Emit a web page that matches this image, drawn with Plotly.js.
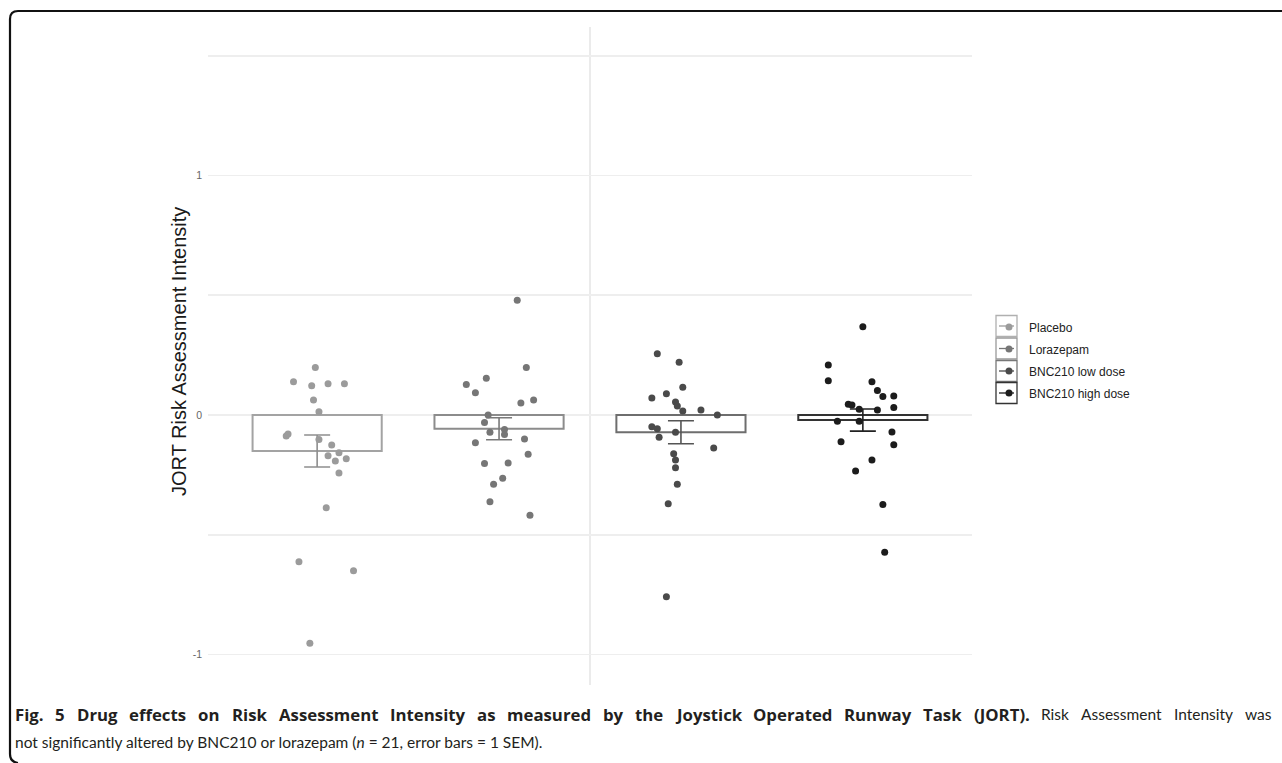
<!DOCTYPE html>
<html>
<head>
<meta charset="utf-8">
<script src="https://cdn.plot.ly/plotly-3.0.1.min.js"></script>
<style>html,body{margin:0;padding:0;background:#fff;}#chart{width:1282px;height:763px;}</style>
</head>
<body>
<div id="chart"></div>
<script>
// ---------- data ----------
const groups = ["Placebo", "Lorazepam", "BNC210 low dose", "BNC210 high dose"];
const groupMeans = [-0.150, -0.057, -0.072, -0.021];
const groupSEM = [0.067, 0.046, 0.048, 0.046];

const placeboValues = [0.199, 0.139, 0.122, 0.131, 0.131, 0.063, 0.014, -0.088, -0.079, -0.102, -0.125, -0.157, -0.170, -0.192, -0.182, -0.242, -0.387, -0.612, -0.650, -0.953];
const placeboJitter = [-0.01, -0.13, -0.03, 0.06, 0.15, -0.02, 0.01, -0.17, -0.16, 0.01, 0.08, 0.12, 0.06, 0.10, 0.16, 0.12, 0.05, -0.10, 0.20, -0.04];

const lorazepamValues = [0.479, 0.199, 0.154, 0.128, 0.093, 0.050, 0.063, 0.000, -0.031, -0.060, -0.072, -0.081, -0.100, -0.116, -0.164, -0.202, -0.200, -0.264, -0.289, -0.362, -0.418];
const lorazepamJitter = [0.10, 0.15, -0.07, -0.18, -0.13, 0.12, 0.19, -0.06, -0.08, 0.03, -0.05, 0.03, 0.14, -0.13, 0.16, -0.08, 0.05, 0.02, -0.03, -0.05, 0.17];

const lowDoseValues = [0.256, 0.220, 0.116, 0.071, 0.089, 0.054, 0.038, 0.017, 0.021, 0.000, -0.049, -0.057, -0.093, -0.072, -0.138, -0.162, -0.188, -0.220, -0.289, -0.370, -0.759];
const lowDoseJitter = [-0.13, -0.01, 0.01, -0.16, -0.08, -0.03, -0.02, 0.01, 0.11, 0.20, -0.16, -0.13, -0.12, -0.03, 0.18, -0.04, -0.03, -0.03, -0.02, -0.07, -0.08];

const highDoseValues = [0.369, 0.209, 0.143, 0.139, 0.102, 0.077, 0.079, 0.045, 0.042, 0.024, 0.021, 0.031, -0.026, -0.026, -0.071, -0.111, -0.124, -0.188, -0.234, -0.373, -0.573];
const highDoseJitter = [0.00, -0.19, -0.19, 0.05, 0.08, 0.11, 0.17, -0.08, -0.06, -0.02, 0.08, 0.17, -0.14, -0.02, 0.16, -0.12, 0.17, 0.05, -0.04, 0.11, 0.12];

const yTickVals = [-1, -0.5, 0, 0.5, 1, 1.5];
const yTickText = ["-1", "", "0", "", "1", ""];

const yTitle = "JORT Risk Assessment Intensity";
const captionBold = "Fig. 5 Drug effects on Risk Assessment Intensity as measured by the Joystick Operated Runway Task (JORT).";
const captionLine1Rest = "Risk Assessment Intensity was";
const captionLine2 = "not significantly altered by BNC210 or lorazepam (<i>n</i> = 21, error bars = 1 SEM).";

// ---------- styles ----------
const pointColors = ["#9b9b9b", "#767676", "#4a4a4a", "#1c1c1c"];
const boxColors = ["#a3a3a3", "#8c8c8c", "#6e6e6e", "#333333"];
const errColors = ["#8e8e8e", "#7a7a7a", "#555555", "#222222"];
const keyBoxColors = ["#b0b0b0", "#9a9a9a", "#777777", "#333333"];

const pointSets = [
  [placeboValues, placeboJitter],
  [lorazepamValues, lorazepamJitter],
  [lowDoseValues, lowDoseJitter],
  [highDoseValues, highDoseJitter]
];

// plot area in pixels
const L = 208, R = 972, T = 27, B = 685, W = 1282, H = 763;
const px = p => (p - L) / (R - L);
const py = p => (B - p) / (B - T);

const traces = [];
groups.forEach((g, i) => {
  traces.push({
    type: "bar",
    x: [i + 1],
    y: [groupMeans[i]],
    width: 0.71,
    marker: { color: "rgba(255,255,255,0)", line: { color: boxColors[i], width: 2 } },
    error_y: { type: "data", array: [groupSEM[i]], visible: true, color: errColors[i], thickness: 1.6, width: 13 },
    showlegend: false,
    hoverinfo: "skip"
  });
});
groups.forEach((g, i) => {
  const [vals, jit] = pointSets[i];
  traces.push({
    type: "scatter",
    mode: "markers",
    name: g,
    legendgroup: "g" + i,
    x: vals.map((v, k) => i + 1 + jit[k]),
    y: vals,
    marker: { color: pointColors[i], size: 7 }
  });
});

// legend key boxes & lines
const shapes = [];
const keyCenters = [326, 348.5, 371, 393];
keyCenters.forEach((c, i) => {
  shapes.push({ type: "rect", xref: "paper", yref: "paper", x0: px(996), x1: px(1017), y0: py(c + 10.5), y1: py(c - 10.5),
    line: { color: keyBoxColors[i], width: 1.3 }, fillcolor: "rgba(0,0,0,0)" });
  shapes.push({ type: "line", xref: "paper", yref: "paper", x0: px(999), x1: px(1014), y0: py(c), y1: py(c),
    line: { color: pointColors[i], width: 1.3 } });
});
// figure frame
const framePath = `M ${px(1290)},${py(11)} L ${px(18)},${py(11)} Q ${px(10)},${py(11)} ${px(10)},${py(19)} L ${px(10)},${py(754)} Q ${px(10)},${py(762)} ${px(18)},${py(763)}`;
shapes.push({ type: "path", xref: "paper", yref: "paper", path: framePath, line: { color: "#111", width: 2.2 } });

// caption (line 1 justified word by word, like the printed figure)
const regFamily = "Lato, 'Open Sans', sans-serif";
const boldFamily = "'Open Sans', Lato, sans-serif";
const boldSize = 16.8, regSize = 15.5;
const canvas = document.createElement("canvas");
const ctx = canvas.getContext("2d");
function measure(word, bold) {
  ctx.font = bold ? ("bold " + boldSize + "px " + boldFamily) : (regSize + "px " + regFamily);
  return ctx.measureText(word).width;
}
const line1Words = captionBold.split(" ").map(w => ({ w, bold: true }))
  .concat(captionLine1Rest.split(" ").map(w => ({ w, bold: false })));
const widths = line1Words.map(o => measure(o.w, o.bold));
const totalW = widths.reduce((a, b) => a + b, 0);
const startX = 14, endX = 1270;
const gap = Math.max(4, (endX - startX - totalW) / (line1Words.length - 1));

const annotations = [
  { xref: "paper", yref: "paper", x: px(179), y: py(352), text: yTitle, textangle: -90,
    showarrow: false, xanchor: "center", yanchor: "middle", font: { family: "'Liberation Sans', Arial, sans-serif", size: 20, color: "#1a1a1a" } },
  { xref: "paper", yref: "paper", x: px(13), y: py(742), xanchor: "left", yanchor: "middle", showarrow: false,
    text: captionLine2, font: { family: regFamily, size: regSize, color: "#231f20" } }
];
let cx = startX;
line1Words.forEach((o, k) => {
  annotations.push({ xref: "paper", yref: "paper", x: px(cx - 1), y: py(714), xanchor: "left", yanchor: "middle", showarrow: false,
    text: o.bold ? "<b>" + o.w + "</b>" : o.w,
    font: { family: o.bold ? boldFamily : regFamily, size: o.bold ? boldSize : regSize, color: "#231f20" } });
  cx += widths[k] + gap;
});

const layout = {
  width: W, height: H,
  margin: { l: L, r: W - R, t: T, b: H - B, pad: 0 },
  paper_bgcolor: "#ffffff", plot_bgcolor: "#ffffff",
  barmode: "overlay",
  xaxis: { range: [0.4, 4.6], tickvals: [2.5], ticktext: [""], showgrid: true, gridcolor: "#ebebeb", gridwidth: 2,
    zeroline: false, showline: false, ticks: "", fixedrange: true },
  yaxis: { range: [-1.127, 1.620], tickvals: yTickVals, ticktext: yTickText, showgrid: true, gridcolor: "#eeeeee", gridwidth: 1.6,
    zeroline: false, showline: false, ticks: "", ticklabelstandoff: 5,
    tickfont: { family: "'Liberation Sans', Arial, sans-serif", size: 10.5, color: "#666" }, fixedrange: true },
  showlegend: true,
  legend: { x: px(989), xanchor: "left", y: py(312.5), yanchor: "top", traceorder: "grouped", tracegroupgap: 3,
    font: { family: "'Liberation Sans', Arial, sans-serif", size: 12, color: "#222" }, bgcolor: "rgba(0,0,0,0)", borderwidth: 0 },
  shapes: shapes,
  annotations: annotations
};

Plotly.newPlot("chart", traces, layout, { displayModeBar: false, staticPlot: true });
</script>
</body>
</html>
